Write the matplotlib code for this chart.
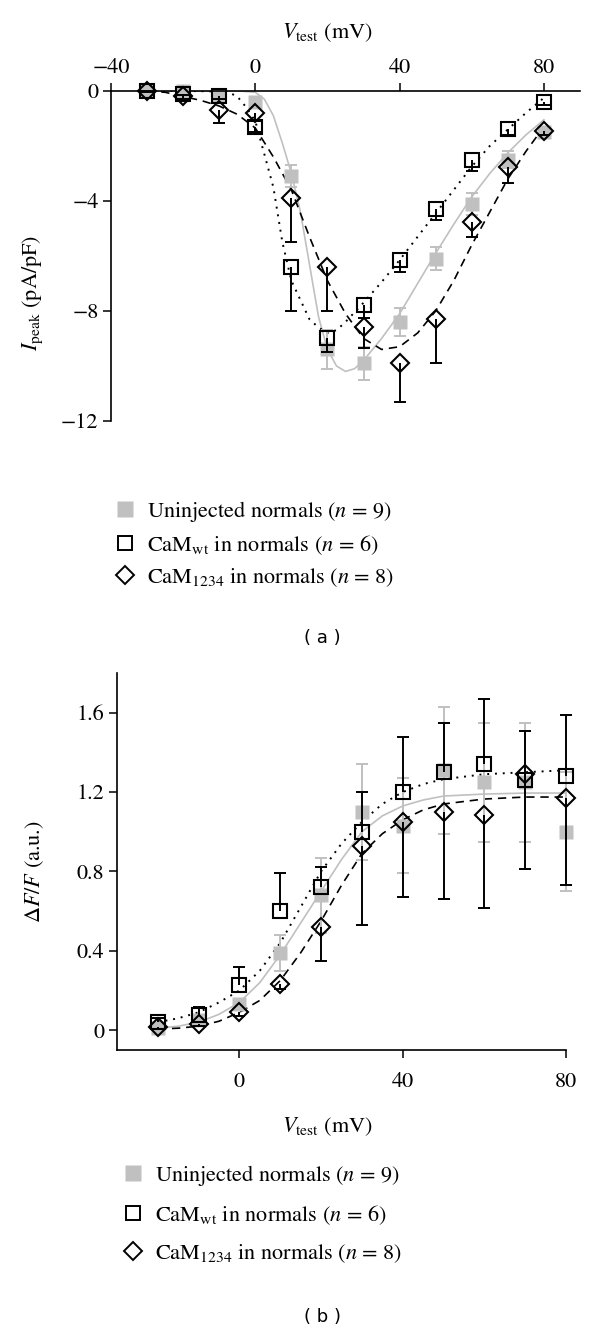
import numpy as np
import matplotlib
matplotlib.use("Agg")
import matplotlib.pyplot as plt
from matplotlib.lines import Line2D

plt.rcParams['font.family'] = 'STIXGeneral'
plt.rcParams['mathtext.fontset'] = 'stix'

GRAY = '#c0c0c0'

# ---- panel (a): peak current density ----
v_a = [-30, -20, -10, 0, 10, 20, 30, 40, 50, 60, 70, 80]
uninj_a = [0, 0, -0.15, -0.4, -3.1, -9.4, -9.9, -8.4, -6.1, -4.1, -2.5, -1.5]
uninj_a_err = [0, 0, 0.05, 0.1, 0.4, 0.7, 0.6, 0.5, 0.42, 0.4, 0.3, 0.1]
wt_a = [0, -0.1, -0.2, -1.3, -6.4, -9.0, -7.8, -6.15, -4.3, -2.5, -1.4, -0.4]
wt_a_err = [0, 0.05, 0.1, 0.2, 1.6, 0.5, 0.45, 0.45, 0.4, 0.4, 0.2, 0.1]
m1234_a = [0, -0.2, -0.7, -0.8, -3.9, -6.4, -8.6, -9.9, -8.3, -4.75, -2.75, -1.45]
m1234_a_err = [0.05, 0.1, 0.45, 0.3, 1.6, 1.6, 0.75, 1.4, 1.6, 0.55, 0.6, 0.15]

# fitted curves
fit_uninj_v = [-30, -20, -10, -5, 0, 2.5, 5, 7.5, 10, 12.5, 15, 17.5, 20, 22.5, 25,
               27.5, 30, 35, 40, 45, 50, 55, 60, 65, 70, 75, 80]
fit_uninj_i = [0, 0, 0, 0, -0.05, -0.3, -0.9, -1.9, -3.0, -4.4, -6.3, -8.2, -9.4, -10.0, -10.2,
               -10.1, -9.8, -9.0, -8.1, -7.0, -5.9, -4.85, -3.85, -3.0, -2.25, -1.6, -1.05]
fit_wt_v = [-30, -20, -10, -7.5, -5, -2.5, 0, 2.5, 5, 7.5, 10, 12.5, 15, 17.5, 20, 22.5,
            25, 30, 35, 40, 45, 50, 55, 60, 65, 70, 75, 80]
fit_wt_i = [0, 0, -0.02, -0.05, -0.2, -0.6, -1.1, -2.3, -3.5, -5.5, -6.9, -7.6, -8.3, -8.6, -8.8, -8.7,
            -8.4, -7.7, -6.95, -6.15, -5.3, -4.45, -3.6, -2.75, -2.0, -1.4, -0.8, -0.25]
fit_m_v = [-30, -25, -20, -15, -10, -5, 0, 5, 10, 15, 20, 25, 30, 35, 40, 45, 50, 55, 60,
           65, 70, 75, 80]
fit_m_i = [0, -0.05, -0.2, -0.35, -0.55, -0.85, -1.35, -2.4, -3.6, -5.3, -6.9, -8.1, -9.0, -9.4,
           -9.3, -8.8, -8.0, -6.9, -5.6, -4.4, -3.2, -2.2, -1.3]

# ---- panel (b): fluorescence ----
v_b = [-20, -10, 0, 10, 20, 30, 40, 50, 60, 70, 80]
uninj_b = [0.01, 0.05, 0.13, 0.39, 0.68, 1.10, 1.03, 1.31, 1.25, 1.25, 1.00]
uninj_b_err = [0.02, 0.02, 0.02, 0.09, 0.19, 0.24, 0.24, 0.32, 0.30, 0.30, 0.30]
wt_b = [0.04, 0.075, 0.23, 0.60, 0.72, 1.00, 1.20, 1.30, 1.34, 1.26, 1.28]
wt_b_err = [0.02, 0.04, 0.09, 0.19, 0.10, 0.20, 0.28, 0.25, 0.33, 0.25, 0.31]
m1234_b = [0.015, 0.03, 0.09, 0.235, 0.52, 0.93, 1.05, 1.10, 1.085, 1.29, 1.17]
m1234_b_err = [0.01, 0.01, 0.02, 0.03, 0.17, 0.40, 0.38, 0.44, 0.47, 0.48, 0.44]

fit_b_v = [-20, -15, -10, -5, 0, 5, 10, 15, 20, 25, 30, 35, 40, 45, 50, 60, 70, 80]
fit_uninj_b = [0.01, 0.02, 0.04, 0.08, 0.14, 0.24, 0.38, 0.54, 0.70, 0.86, 1.0, 1.08, 1.13,
               1.16, 1.18, 1.19, 1.195, 1.195]
fit_wt_b = [0.04, 0.06, 0.09, 0.14, 0.2, 0.3, 0.44, 0.62, 0.80, 0.94, 1.05, 1.14, 1.20,
            1.24, 1.265, 1.29, 1.30, 1.31]
fit_m_b = [0.005, 0.01, 0.02, 0.045, 0.09, 0.15, 0.25, 0.39, 0.55, 0.73, 0.89, 0.99, 1.06,
           1.11, 1.14, 1.165, 1.175, 1.175]

labels = [r'Uninjected normals ($n$ = 9)',
          r'CaM$_{\mathrm{wt}}$ in normals ($n$ = 6)',
          r'CaM$_{1234}$ in normals ($n$ = 8)']

FS = 16


def errbars(ax, x, y, lo, hi, color):
    lo = np.asarray(lo, float)
    hi = np.asarray(hi, float)
    cont = ax.errorbar(x, y, yerr=[lo, hi], fmt='none', ecolor=color, elinewidth=1.4,
                       capsize=4, capthick=1.4, zorder=3, clip_on=False)
    caps = cont[1]
    if not hi.any():
        caps[1].remove()
    if not lo.any():
        caps[0].remove()


def draw_points(ax, x, gy, gerr, wy, werr_lo, werr_hi, dy, derr_lo, derr_hi):
    errbars(ax, x, gy, gerr, gerr, GRAY)
    ax.plot(x, gy, 's', color=GRAY, ms=10.5, mec='none', zorder=2, clip_on=False)
    errbars(ax, x, wy, werr_lo, werr_hi, 'black')
    ax.plot(x, wy, 's', mfc='none', mec='black', mew=1.5, ms=9.5, zorder=4, clip_on=False)
    errbars(ax, x, dy, derr_lo, derr_hi, 'black')
    ax.plot(x, dy, 'D', mfc='none', mec='black', mew=1.5, ms=9, zorder=4, clip_on=False)


def legend(ax, x, y, spacing):
    handles = [Line2D([], [], ls='none', marker='s', color=GRAY, mec='none', ms=11),
               Line2D([], [], ls='none', marker='s', mfc='none', mec='black', mew=1.4, ms=10.5),
               Line2D([], [], ls='none', marker='D', mfc='none', mec='black', mew=1.4, ms=9.5)]
    ax.legend(handles, labels, loc='upper left', bbox_to_anchor=(x, y),
              bbox_transform=fig.transFigure, frameon=False, fontsize=FS,
              handlelength=1.0, handletextpad=0.5, labelspacing=spacing,
              borderpad=0, borderaxespad=0)


fig = plt.figure(figsize=(6, 13.33), dpi=100)

# panel (a)
ax1 = fig.add_axes([0.185, 0.6842, 0.7817, 0.2476])
ax1.plot(fit_uninj_v, fit_uninj_i, color=GRAY, lw=1.2, zorder=1)
ax1.plot(fit_wt_v, fit_wt_i, color='black', lw=1.4, ls=(0, (1, 3)), zorder=1)
ax1.plot(fit_m_v, fit_m_i, color='black', lw=1.2, ls=(0, (5, 3.5)), zorder=1)
zeros_a = np.zeros(len(v_a))
draw_points(ax1, v_a, uninj_a, uninj_a_err, wt_a, wt_a_err, zeros_a,
            m1234_a, m1234_a_err, zeros_a)
ax1.set_xlim(-40, 90)
ax1.set_ylim(-12, 0)
ax1.xaxis.tick_top()
ax1.spines['bottom'].set_visible(False)
ax1.spines['right'].set_visible(False)
ax1.set_xticks([-40, 0, 40, 80])
ax1.set_yticks([0, -4, -8, -12])
ax1.tick_params(direction='out', length=6, width=1.1, labelsize=FS, pad=3)
for s in ax1.spines.values():
    s.set_linewidth(1.2)
fig.text(327 / 600, 1 - 33 / 1333, r'$V_{\mathrm{test}}$ (mV)', ha='center', va='center', fontsize=FS)
fig.text(33 / 600, 1 - 293 / 1333, r'$I_{\mathrm{peak}}$ (pA/pF)', ha='center', va='center',
         rotation=90, fontsize=FS)
legend(ax1, 0.19, 1 - 499 / 1333, 0.42)
fig.text(322 / 600, 1 - 638 / 1333, '( a )', ha='center', va='center', fontsize=13,
         family='DejaVu Sans')

# panel (b)
ax2 = fig.add_axes([0.195, 0.2123, 0.7483, 0.2828])
ax2.plot(fit_b_v, fit_uninj_b, color=GRAY, lw=1.2, zorder=1)
ax2.plot(fit_b_v, fit_wt_b, color='black', lw=1.4, ls=(0, (1, 3)), zorder=1)
ax2.plot(fit_b_v, fit_m_b, color='black', lw=1.2, ls=(0, (5, 3.5)), zorder=1)
zeros_b = np.zeros(len(v_b))
draw_points(ax2, v_b, uninj_b, uninj_b_err, wt_b, zeros_b, wt_b_err,
            m1234_b, m1234_b_err, zeros_b)
ax2.set_xlim(-30, 80)
ax2.set_ylim(-0.1, 1.8)
ax2.spines['top'].set_visible(False)
ax2.spines['right'].set_visible(False)
ax2.set_xticks([0, 40, 80])
ax2.set_yticks([0, 0.4, 0.8, 1.2, 1.6])
ax2.set_yticklabels(['0', '0.4', '0.8', '1.2', '1.6'])
ax2.tick_params(direction='out', length=6, width=1.1, labelsize=FS, pad=3)
ax2.tick_params(axis='x', pad=10)
for s in ax2.spines.values():
    s.set_linewidth(1.2)
fig.text(327 / 600, 1 - 1127 / 1333, r'$V_{\mathrm{test}}$ (mV)', ha='center', va='center', fontsize=FS)
fig.text(35 / 600, 1 - 872 / 1333, r'$\Delta F/F$ (a.u.)', ha='center', va='center',
         rotation=90, fontsize=FS)
legend(ax2, 0.203, 1 - 1163 / 1333, 0.68)
fig.text(322 / 600, 1 - 1317 / 1333, '( b )', ha='center', va='center', fontsize=13,
         family='DejaVu Sans')

fig.savefig('out.png', dpi=100)
